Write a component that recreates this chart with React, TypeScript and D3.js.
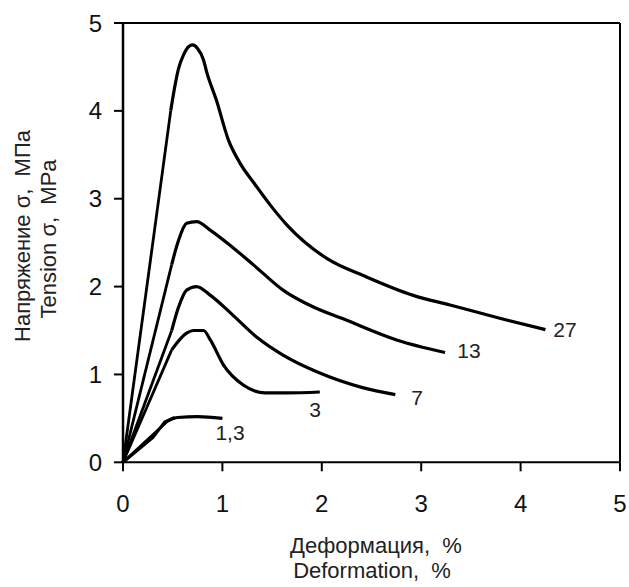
import React from "react";
import * as d3 from "d3";

const W = 629;
const H = 587;

const xTicks = [0, 1, 2, 3, 4, 5];
const yTicks = [0, 1, 2, 3, 4, 5];

const strain27 = [0, 0.48, 0.52, 0.556, 0.61, 0.66, 0.7, 0.75, 0.81, 0.84, 0.94, 1.06, 1.18, 1.31, 1.48, 1.65, 2.05, 2.45, 2.92, 3.29, 3.79, 4.25];
const stress27 = [0, 4.0, 4.27, 4.47, 4.64, 4.73, 4.75, 4.71, 4.58, 4.45, 4.12, 3.67, 3.4, 3.19, 2.93, 2.7, 2.32, 2.11, 1.9, 1.79, 1.64, 1.51];

const strain13 = [0, 0.49, 0.53, 0.56, 0.64, 0.74, 0.88, 1.11, 1.31, 1.61, 1.91, 2.22, 2.76, 3.24];
const stress13 = [0, 2.25, 2.42, 2.53, 2.72, 2.74, 2.64, 2.44, 2.25, 1.96, 1.77, 1.63, 1.39, 1.25];

const strain7 = [0, 0.49, 0.56, 0.64, 0.74, 0.88, 1.11, 1.35, 1.61, 1.95, 2.41, 2.74];
const stress7 = [0, 1.5, 1.77, 1.96, 2.0, 1.9, 1.67, 1.42, 1.22, 1.03, 0.85, 0.77];

const strain3 = [0, 0.49, 0.64, 0.71, 0.81, 0.88, 1.01, 1.21, 1.43, 1.65, 1.98];
const stress3 = [0, 1.28, 1.47, 1.5, 1.5, 1.39, 1.11, 0.88, 0.79, 0.79, 0.8];

const strain13b = [0, 0.45, 0.55, 0.75, 1.0];
const stress13b = [0, 0.47, 0.51, 0.52, 0.5];

const strain13c = [0, 0.3, 0.42, 0.52];
const stress13c = [0, 0.28, 0.46, 0.51];

const seriesLabels = ["27", "13", "7", "3", "1,3"];

export default function App() {
  const x = d3.scaleLinear().domain([0, 5]).range([123, 620]);
  const y = d3.scaleLinear().domain([0, 5]).range([462.3, 23]);

  const smooth = d3
    .line<[number, number]>()
    .x((d) => x(d[0]))
    .y((d) => y(d[1]))
    .curve(d3.curveMonotoneX);
  const straight = d3
    .line<[number, number]>()
    .x((d) => x(d[0]))
    .y((d) => y(d[1]))
    .curve(d3.curveLinear);

  const zip = (a: number[], b: number[]) => a.map((v, i) => [v, b[i]] as [number, number]);

  const series = [
    { xs: strain27, ys: stress27 },
    { xs: strain13, ys: stress13 },
    { xs: strain7, ys: stress7 },
    { xs: strain3, ys: stress3 },
    { xs: strain13b, ys: stress13b },
  ];

  const labelPos = [
    { x: 565, y: 337 },
    { x: 469, y: 358 },
    { x: 417, y: 405 },
    { x: 315, y: 417 },
    { x: 230, y: 440 },
  ];

  const font = "Arial, 'Liberation Sans', sans-serif";

  return (
    <svg
      width={W}
      height={H}
      style={{ position: "absolute", left: 0, top: 0, background: "#fff" }}
      fontFamily={font}
    >
      <rect x={0} y={0} width={W} height={H} fill="#fff" />
      {/* frame */}
      <line x1={x(0)} y1={y(5)} x2={x(5)} y2={y(5)} stroke="#000" strokeWidth={2} />
      <line x1={x(5)} y1={y(5)} x2={x(5)} y2={y(0)} stroke="#000" strokeWidth={2} />
      <line x1={x(0)} y1={y(0)} x2={x(5)} y2={y(0)} stroke="#000" strokeWidth={2} />
      <line x1={x(0)} y1={y(0)} x2={x(0)} y2={y(5)} stroke="#000" strokeWidth={2.5} />
      {/* x ticks */}
      {xTicks.map((t) => (
        <g key={"xt" + t}>
          <line x1={x(t)} x2={x(t)} y1={y(0)} y2={y(0) + 9} stroke="#000" strokeWidth={2} />
          <text x={x(t)} y={512} textAnchor="middle" fontSize={24} fill="#111">
            {t}
          </text>
        </g>
      ))}
      {/* y ticks */}
      {yTicks.map((t) => (
        <g key={"yt" + t}>
          <line x1={x(0) - 9} x2={x(0)} y1={y(t)} y2={y(t)} stroke="#000" strokeWidth={2} />
          <text x={102} y={y(t) + 8.5} textAnchor="end" fontSize={24} fill="#111">
            {t}
          </text>
        </g>
      ))}
      {/* curves: straight elastic part + smooth remainder */}
      {series.map((s, i) => {
        const pts = zip(s.xs, s.ys);
        return (
          <g key={"s" + i}>
            <path
              d={straight(pts.slice(0, 2)) || ""}
              fill="none"
              stroke="#000"
              strokeWidth={2.8}
            />
            <path
              d={smooth(pts.slice(1)) || ""}
              fill="none"
              stroke="#000"
              strokeWidth={3.2}
              strokeLinejoin="round"
            />
          </g>
        );
      })}
      <path
        d={straight(zip(strain13c, stress13c)) || ""}
        fill="none"
        stroke="#000"
        strokeWidth={3}
        strokeLinejoin="round"
      />
      {/* series labels */}
      {seriesLabels.map((l, i) => (
        <text
          key={"l" + i}
          x={labelPos[i].x}
          y={labelPos[i].y}
          textAnchor="middle"
          fontSize={21}
          fill="#222"
        >
          {l}
        </text>
      ))}
      {/* axis titles */}
      <text x={376} y={553} textAnchor="middle" fontSize={22} fill="#222" style={{ whiteSpace: "pre" }}>
        {"Деформация,  %"}
      </text>
      <text x={372} y={578} textAnchor="middle" fontSize={22} fill="#222" style={{ whiteSpace: "pre" }}>
        {"Deformation,  %"}
      </text>
      <text
        transform="translate(30,236) rotate(-90)"
        textAnchor="middle"
        fontSize={22}
        fill="#222"
        style={{ whiteSpace: "pre" }}
      >
        {"Напряжение σ,  МПа"}
      </text>
      <text
        transform="translate(56,239) rotate(-90)"
        textAnchor="middle"
        fontSize={22}
        fill="#222"
        style={{ whiteSpace: "pre" }}
      >
        {"Tension σ,  MPa"}
      </text>
    </svg>
  );
}
